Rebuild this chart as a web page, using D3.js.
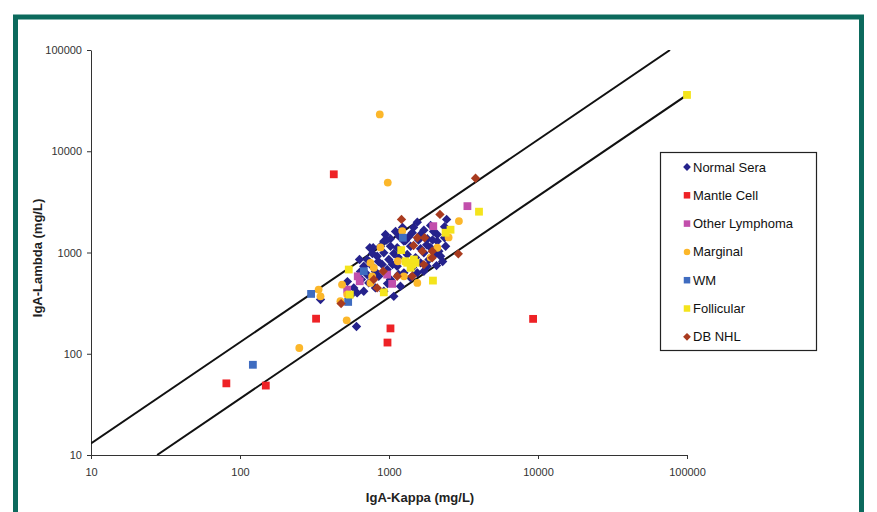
<!DOCTYPE html>
<html>
<head>
<meta charset="utf-8">
<script src="https://cdn.jsdelivr.net/npm/d3@7"></script>
<style>
  body { margin: 0; background: #fff; }
  svg { display: block; font-family: "Liberation Sans", Arial, sans-serif; }
</style>
</head>
<body>
<svg></svg>
<script>
// ---- data (IgA kappa / lambda, mg/L) ----
var tickValues = [10, 100, 1000, 10000, 100000];

var normalKappa = [1549, 1902, 2361, 1714, 1432, 1629, 2109, 1358, 1807, 1164, 1023, 1259, 923, 2109, 783, 877, 1023, 1135,
  1396, 1629, 1902, 923, 1077, 1325, 1714, 2162, 833, 713, 997, 1854, 1629, 677, 771, 900, 1135, 1807, 1714, 713, 854,
  972, 1259, 1023, 731, 811, 923, 1077, 1194, 677, 611, 580, 1396, 1549, 2219, 2399, 605, 347, 962, 743, 1194, 1462,
  2437, 1991, 653, 526, 1159, 1507, 2085, 2291, 634, 811, 1291, 1790,
  947, 1106, 1233, 1578, 1960, 849, 1056, 1439, 1159, 774, 643, 2361, 2023, 977, 551];
var normalLambda = [1995, 1851, 1796, 1663, 1567, 1507, 1507, 1429, 1366, 1449, 1366, 1294, 1294, 1294, 1113, 1153, 1153, 1113,
  1153, 1088, 1113, 993, 977, 955, 993, 1031, 919, 853, 853, 853, 791, 732, 732, 761, 732, 732, 653, 606, 582,
  679, 630, 541, 501, 447, 414, 369, 464, 414, 399, 447, 562, 630, 919, 1153, 186, 343, 1324, 1113, 1614, 1770,
  2123, 1614, 541, 516, 891, 891, 743, 814, 853, 648, 1310, 1190,
  1507, 1614, 1770, 1330, 1330, 814, 761, 710, 606, 977, 648, 1400, 955, 493, 375];

var mantleKappa = [426, 9270, 324, 1023, 977, 81, 149];
var mantleLambda = [5920, 221, 222, 178, 129, 51, 48.5];

var otherKappa = [3360, 1982, 617, 636, 972, 1050, 524];
var otherLambda = [2870, 1820, 582, 520, 605, 490, 430];

var marginalKappa = [867, 981, 2946, 1227, 2109, 1146, 751, 791, 1259, 1549, 771, 751, 484, 524, 337, 347, 472, 520, 250,
  1902, 2512, 877];
var marginalLambda = [23100, 4900, 2042, 1626, 1114, 820, 791, 706, 582, 501, 582, 501, 482, 384, 430, 369, 330, 214, 114,
  891, 1409, 1122];

var wmKappa = [122, 300, 532, 678, 1239];
var wmLambda = [77.8, 390, 325, 653, 1399];

var follicularKappa = [100000, 4018, 2588, 2398, 1208, 1325, 1431, 1507, 1396, 1292, 1972, 923, 537, 546, 1469];
var follicularLambda = [36000, 2530, 1679, 1567, 1055, 791, 760, 791, 706, 820, 528, 404, 679, 384, 853];

var dbKappa = [3810, 1213, 2198, 2918, 1549, 1733, 1950, 1950, 1714, 1431, 1135, 914, 791, 833, 477, 1673, 1462];
var dbLambda = [5410, 2124, 2377, 970, 1399, 1399, 1031, 887, 760, 582, 582, 653, 541, 447, 313, 1031, 1172];

// reference lines: lambda = ratio * kappa
var upperRatio = 1.3;
var lowerRatio = 0.36;

var series = [
  {name: "Normal Sera", kappa: normalKappa, lambda: normalLambda, shape: "diamond", color: "#25228c"},
  {name: "Mantle Cell", kappa: mantleKappa, lambda: mantleLambda, shape: "square", color: "#ee2226"},
  {name: "Other Lymphoma", kappa: otherKappa, lambda: otherLambda, shape: "square", color: "#c24fac"},
  {name: "Marginal", kappa: marginalKappa, lambda: marginalLambda, shape: "circle", color: "#fcb72a"},
  {name: "WM", kappa: wmKappa, lambda: wmLambda, shape: "square", color: "#3f6cc0"},
  {name: "Follicular", kappa: follicularKappa, lambda: follicularLambda, shape: "square", color: "#f4e41c"},
  {name: "DB NHL", kappa: dbKappa, lambda: dbLambda, shape: "diamond", color: "#a93b1f"}
];

var svg = d3.select("svg")
    .attr("width", 877)
    .attr("height", 512);

// teal frame
svg.append("rect")
    .attr("x", 15.5)
    .attr("y", 17)
    .attr("width", 846)
    .attr("height", 530)
    .attr("fill", "#fff")
    .attr("stroke", "#0c6a5d")
    .attr("stroke-width", 5);

// set the ranges
var x = d3.scaleLog().domain([10, 100000]).range([91, 687]);
var y = d3.scaleLog().domain([10, 100000]).range([455, 50]);

// add the x Axis
var xAxis = svg.append("g")
    .attr("transform", "translate(0,455)")
    .call(d3.axisBottom(x).tickValues(tickValues).tickFormat(d3.format("d"))
      .tickSize(4).tickSizeOuter(0).tickPadding(9));

// add the y Axis
var yAxis = svg.append("g")
    .attr("transform", "translate(91,0)")
    .call(d3.axisLeft(y).tickValues(tickValues).tickFormat(d3.format("d"))
      .tickSize(4).tickSizeOuter(0).tickPadding(5));

[xAxis, yAxis].forEach(function(g) {
  g.attr("font-family", null).attr("font-size", null);
  g.select(".domain").attr("stroke", "#333");
  g.selectAll(".tick line").attr("stroke", "#333");
  g.selectAll(".tick text")
      .style("font-family", "'Liberation Sans', Arial, sans-serif")
      .style("font-size", "11px")
      .attr("fill", "#333");
});

// axis titles
svg.append("text")
    .attr("x", 420)
    .attr("y", 502)
    .style("text-anchor", "middle")
    .style("font-weight", "bold")
    .style("font-size", "13px")
    .attr("fill", "#222")
    .text("IgA-Kappa (mg/L)");

svg.append("text")
    .attr("transform", "translate(42,258) rotate(-90)")
    .style("text-anchor", "middle")
    .style("font-weight", "bold")
    .style("font-size", "13px")
    .attr("fill", "#222")
    .text("IgA-Lambda (mg/L)");

// ratio lines, clipped to the plot
svg.append("clipPath").attr("id", "plotClip")
  .append("rect")
    .attr("x", 91).attr("y", 50)
    .attr("width", 596).attr("height", 405);

var line = d3.line()
    .x(function(d) { return x(d[0]); })
    .y(function(d) { return y(d[1]); });

[upperRatio, lowerRatio].forEach(function(r) {
  var k0 = Math.max(10, 10 / r);
  var k1 = Math.min(100000, 100000 / r);
  svg.append("path")
      .attr("clip-path", "url(#plotClip)")
      .attr("d", line([[k0, k0 * r], [k1, k1 * r]]))
      .attr("fill", "none")
      .attr("stroke", "#111")
      .attr("stroke-width", 2);
});

function drawMarker(g, shape, color, size) {
  if (shape === "diamond") {
    var r = size * 0.6;
    g.append("path")
        .attr("d", "M0," + (-r) + "L" + r + ",0L0," + r + "L" + (-r) + ",0Z")
        .attr("fill", color);
  } else if (shape === "square") {
    g.append("rect")
        .attr("x", -size / 2).attr("y", -size / 2)
        .attr("width", size).attr("height", size)
        .attr("fill", color);
  } else {
    g.append("circle")
        .attr("r", size / 2)
        .attr("fill", color);
  }
}

// points
series.forEach(function(s) {
  var pts = s.kappa.map(function(k, i) { return [k, s.lambda[i]]; });
  svg.append("g")
      .attr("class", "series")
    .selectAll("g")
      .data(pts)
      .enter()
    .append("g")
      .attr("transform", function(d) { return "translate(" + x(d[0]) + "," + y(d[1]) + ")"; })
      .each(function() { drawMarker(d3.select(this), s.shape, s.color, 7.8); });
});

// legend
var legend = svg.append("g");
legend.append("rect")
    .attr("x", 660.5)
    .attr("y", 152.5)
    .attr("width", 156)
    .attr("height", 198)
    .attr("fill", "#fff")
    .attr("stroke", "#222")
    .attr("stroke-width", 1.2);

series.forEach(function(s, i) {
  var item = legend.append("g")
      .attr("transform", "translate(687," + (167 + i * 28.3) + ")");
  drawMarker(item, s.shape, s.color, 6.5);
  item.append("text")
      .attr("x", 6)
      .attr("dy", "0.35em")
      .style("font-size", "13px")
      .attr("fill", "#111")
      .text(s.name);
});
</script>
</body>
</html>
